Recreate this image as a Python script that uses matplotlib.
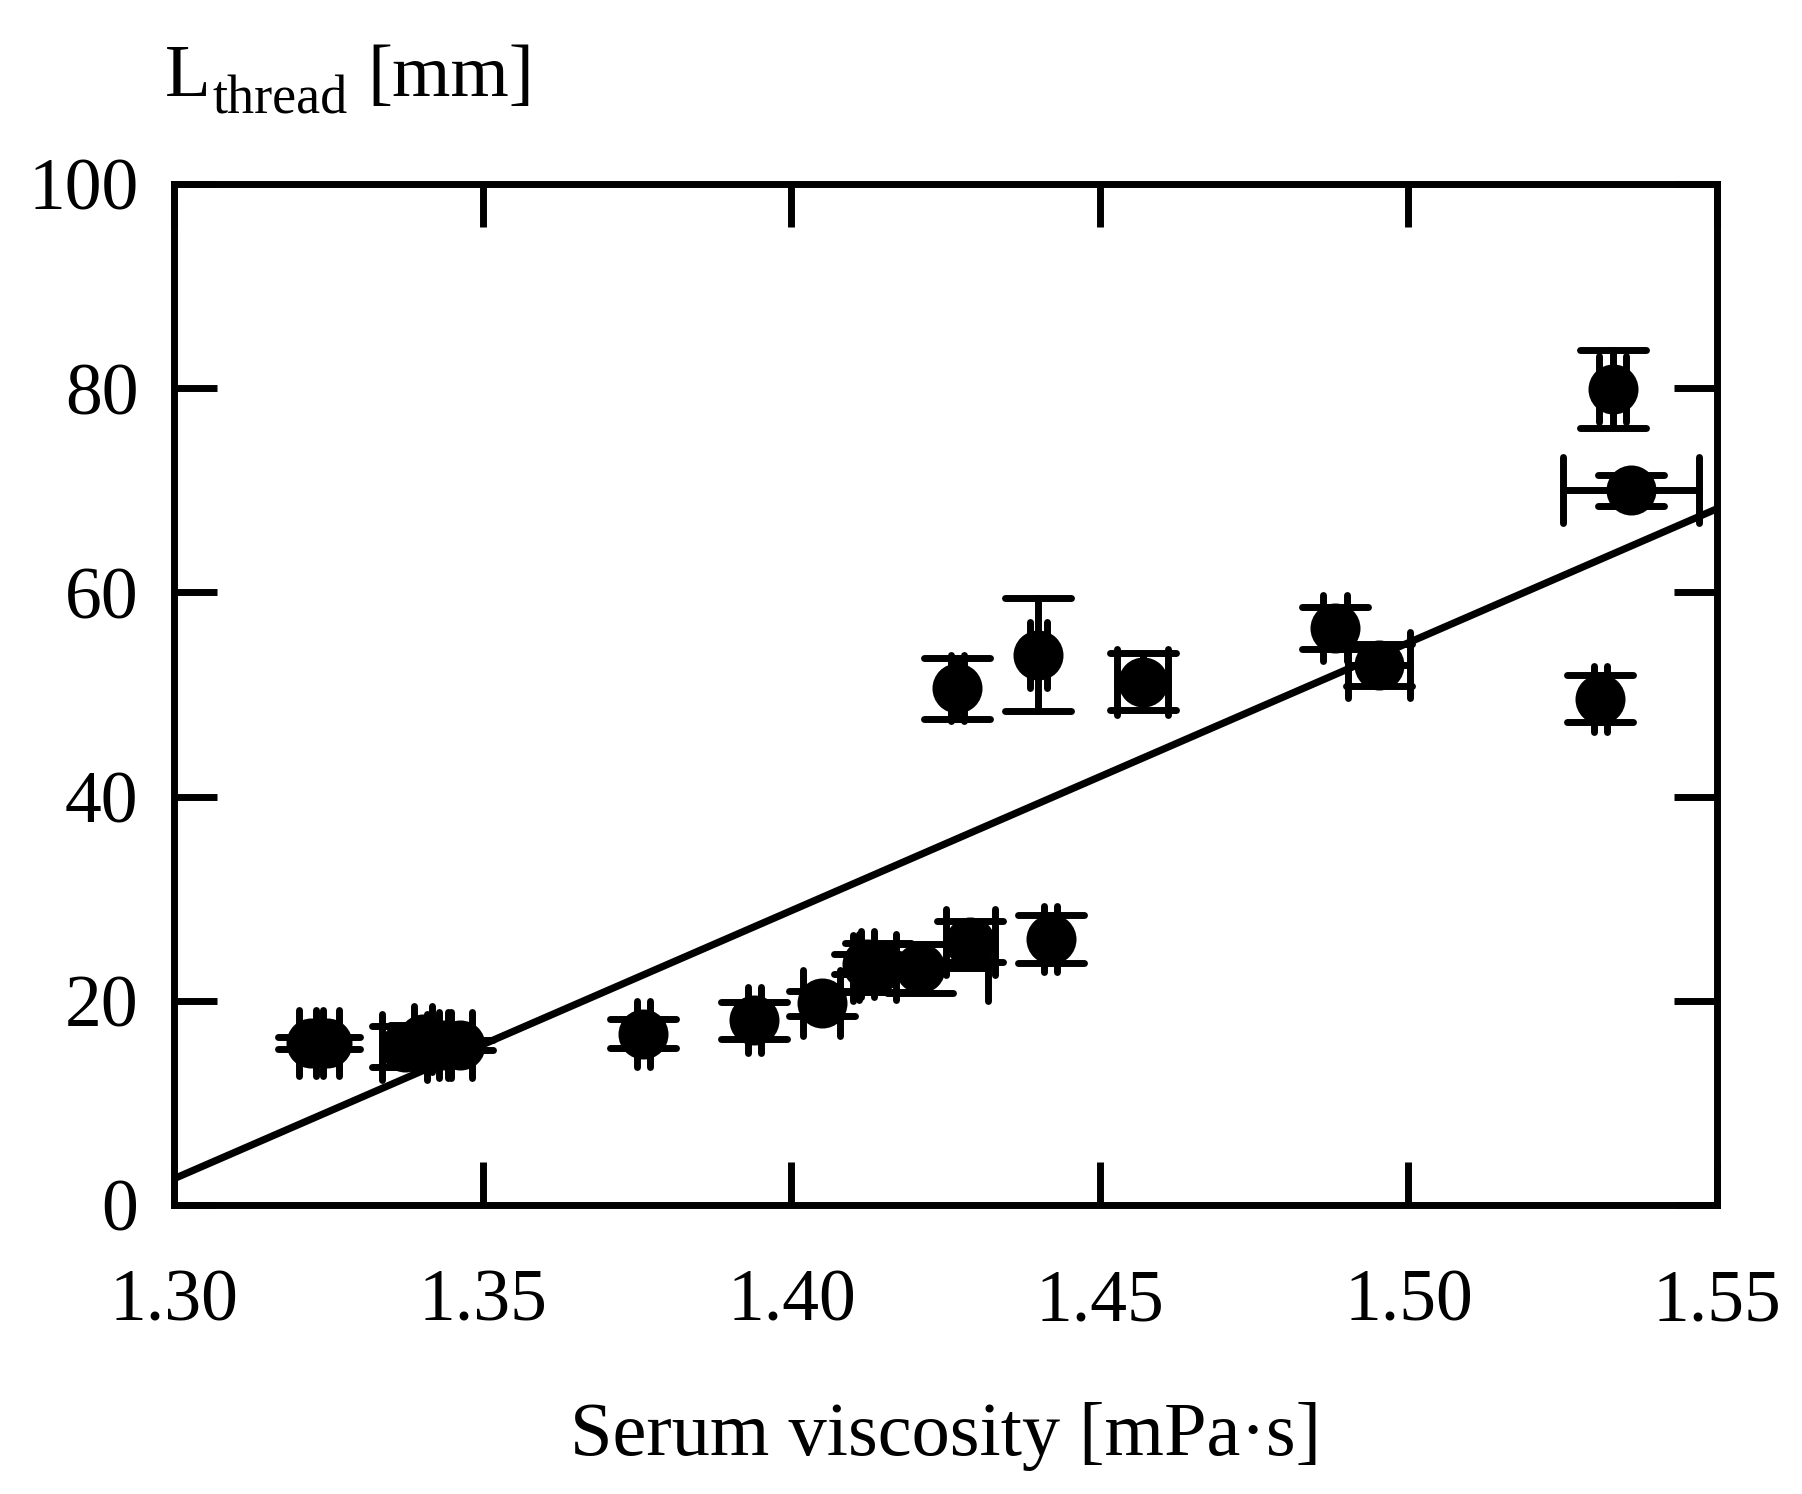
import matplotlib
matplotlib.use("Agg")
import matplotlib.pyplot as plt
from matplotlib.markers import MarkerStyle

# serum viscosity [mPa s] and thread length [mm], with their uncertainties
viscosity = [1.3221, 1.3248, 1.3373, 1.3403, 1.3438, 1.3463, 1.3760, 1.3940,
             1.4049, 1.4123, 1.4140, 1.4209, 1.4290, 1.4420, 1.4269, 1.4400,
             1.4569, 1.4881, 1.4952, 1.5311, 1.5331, 1.5361]
viscosity_err = [0.0019, 0.0019, 0.0037, 0.0015, 0.0010, 0.0020, 0.0010, 0.0010,
                 0.0030, 0.0010, 0.0030, 0.0110, 0.0040, 0.0010, 0.0010, 0.0014,
                 0.0042, 0.0020, 0.0050, 0.0011, 0.0022, 0.0110]
thread_len = [15.9, 15.9, 15.5, 16.3, 15.7, 15.7, 16.8, 18.1,
              19.75, 23.6, 23.3, 23.2, 25.8, 26.1, 50.6, 53.9,
              51.25, 56.5, 52.9, 49.6, 79.9, 70.0]
thread_err = [0.6, 0.6, 2.0, 1.3, 1.0, 0.5, 1.4, 1.8,
              1.2, 1.0, 2.4, 2.4, 2.0, 2.35, 3.0, 5.55,
              2.8, 2.05, 2.1, 2.3, 3.8, 1.55]

# linear fit shown as a straight line across the axis range
fit_x = [1.30, 1.55]
fit_y = [2.6, 68.2]

x_ticks = [1.30, 1.35, 1.40, 1.45, 1.50, 1.55]
y_ticks = [0, 20, 40, 60, 80, 100]

plt.rcParams["font.family"] = ["Liberation Serif", "DejaVu Serif"]

fig = plt.figure(figsize=(9.01, 7.47), dpi=200)
ax = fig.add_axes([0.0968, 0.1934, 0.9528 - 0.0968, 0.8768 - 0.1934])

ax.plot(fit_x, fit_y, color="black", lw=2.6, zorder=2, solid_capstyle="butt")

_, caps, bars = ax.errorbar(
    viscosity, thread_len, xerr=viscosity_err, yerr=thread_err,
    fmt="o", color="black", ms=17, elinewidth=2.5, capsize=12, capthick=2.5,
    zorder=3,
)
for cap in caps:
    cap.set_marker(MarkerStyle(cap.get_marker(), capstyle="round"))
for b in bars:
    b.set_capstyle("round")

ax.set_xlim(1.30, 1.55)
ax.set_ylim(0, 100)
ax.set_xticks(x_ticks)
ax.set_xticklabels([f"{v:.2f}" for v in x_ticks])
ax.set_yticks(y_ticks)
ax.tick_params(direction="in", length=15.5, width=2.5, top=True, right=True,
               labelsize=26.5, color="black")
ax.tick_params(axis="x", pad=23)
ax.tick_params(axis="y", pad=13)
for sp in ax.spines.values():
    sp.set_linewidth(2.5)

# y label: "L" with a larger-than-mathtext subscript, placed piece by piece
renderer = fig.canvas.get_renderer()
fw = fig.get_figwidth() * fig.dpi
y_base = 0.9356
t_L = fig.text(0.0916, y_base, "L", fontsize=27, ha="left", va="baseline")
x1 = t_L.get_window_extent(renderer).x1 / fw
t_sub = fig.text(x1 + 0.001, y_base - 0.0115, "thread", fontsize=19.5,
                 ha="left", va="baseline")
x2 = t_sub.get_window_extent(renderer).x1 / fw
fig.text(x2 + 0.011, y_base, "[mm]", fontsize=27, ha="left", va="baseline")

fig.text(0.5248, 0.026, "Serum viscosity [mPa·s]", fontsize=27.5,
         ha="center", va="baseline")

fig.savefig("out.png", dpi=200)
